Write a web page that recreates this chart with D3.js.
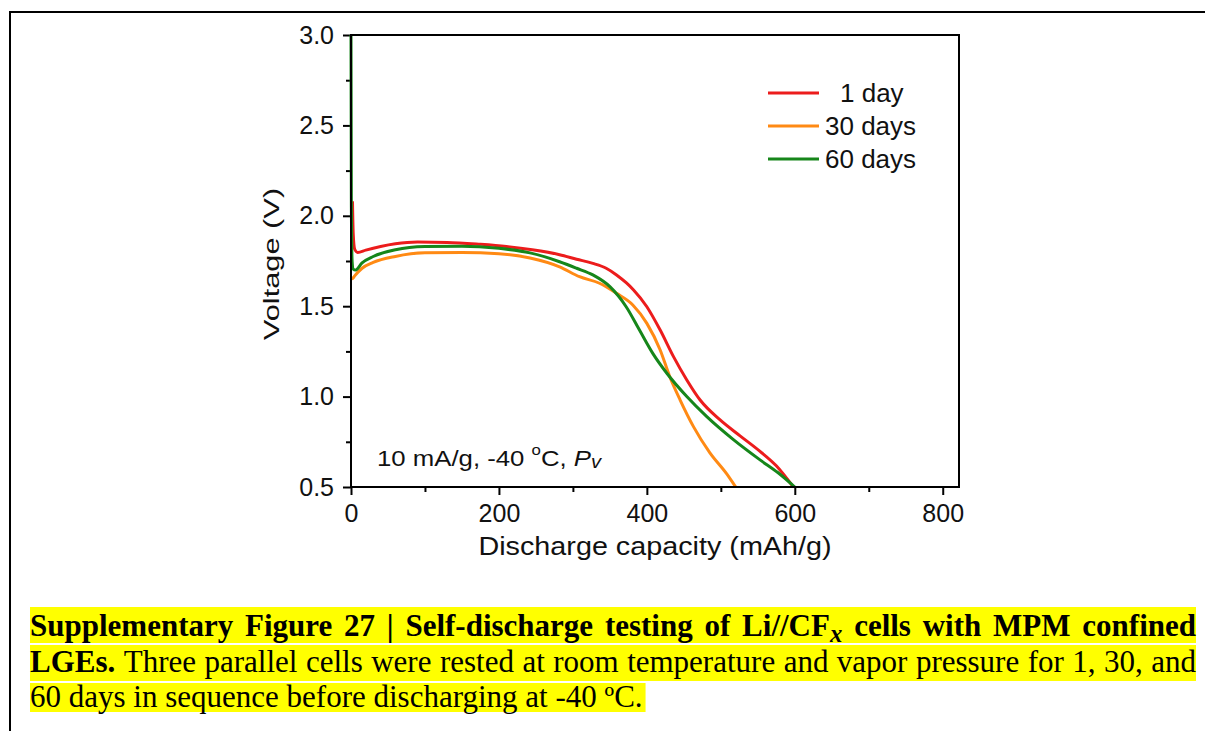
<!DOCTYPE html>
<html>
<head>
<meta charset="utf-8">
<script src="https://cdn.jsdelivr.net/npm/d3@7"></script>
<style>
  html, body { margin: 0; padding: 0; background: #fff; }
  svg { display: block; }
</style>
</head>
<body>
<svg id="fig" width="1205" height="731"></svg>
<script>
// Discharge curves: [capacity (mAh/g), voltage (V)]
const day1 = [
  [2, 2.08], [3, 1.90], [5, 1.815], [9, 1.797], [20, 1.81], [40, 1.83], [60, 1.845],
  [90, 1.855], [130, 1.853], [175, 1.842], [210, 1.83], [245, 1.812], [282, 1.785],
  [305, 1.76], [327, 1.737], [345, 1.71], [359, 1.673], [372, 1.63], [382, 1.59],
  [400, 1.497], [418, 1.368], [436, 1.221], [454, 1.092], [472, 0.981], [499, 0.871],
  [526, 0.783], [553, 0.697], [575, 0.617], [598, 0.50]
];
const day30 = [
  [0, 1.66], [2, 1.652], [5, 1.668], [15, 1.71], [30, 1.742], [60, 1.775], [100, 1.795],
  [150, 1.797], [200, 1.79], [242, 1.767], [282, 1.718], [309, 1.663], [336, 1.627],
  [359, 1.571], [381, 1.507], [400, 1.405], [418, 1.258], [431, 1.11], [445, 0.981],
  [463, 0.834], [485, 0.69], [508, 0.572], [520, 0.50]
];
const day60 = [
  [0, 3.0], [0.5, 2.05], [1.5, 1.75], [3, 1.705], [6, 1.70], [15, 1.74], [30, 1.775],
  [60, 1.812], [100, 1.83], [150, 1.832], [200, 1.82], [242, 1.795], [282, 1.746],
  [305, 1.71], [327, 1.673], [350, 1.608], [372, 1.497], [390, 1.368], [408, 1.239],
  [427, 1.129], [454, 1.0], [481, 0.889], [517, 0.762], [553, 0.65], [577, 0.58],
  [600, 0.50]
];

const seriesNames = ["1 day", "30 days", "60 days"];
const seriesColors = ["#ec1c1c", "#ff8a14", "#16861a"];

const xMajorTicks = [0, 200, 400, 600, 800];
const xMinorTicks = [100, 300, 500, 700];
const yMajorTicks = [0.5, 1.0, 1.5, 2.0, 2.5, 3.0];
const yMinorTicks = [0.75, 1.25, 1.75, 2.25, 2.75];

const xTitle = "Discharge capacity (mAh/g)";
const yTitle = "Voltage (V)";

// Caption lines as styled segments
const captionLines = [
  [
    { t: "Supplementary Figure 27 | Self-discharge testing of Li//CF", b: true },
    { t: "x", b: true, i: true, sub: true },
    { t: " cells with MPM confined", b: true }
  ],
  [
    { t: "LGEs.", b: true },
    { t: " Three parallel cells were rested at room temperature and vapor pressure for 1, 30, and" }
  ],
  [
    { t: "60 days in sequence before discharging at -40 ºC." }
  ]
];

const svg = d3.select("#fig");
const sans = "'Liberation Sans', Arial, Helvetica, sans-serif";
const serif = "'Liberation Serif', 'Times New Roman', serif";

// page frame
svg.append("path")
  .attr("d", "M10,760 L10,12 L1220,12")
  .attr("fill", "none").attr("stroke", "#000").attr("stroke-width", 2);

const plot = { left: 351, right: 959, top: 35, bottom: 487 };
const x = d3.scaleLinear().domain([0, 822]).range([plot.left, plot.right]);
const y = d3.scaleLinear().domain([0.5, 3.0]).range([plot.bottom, plot.top]);

// axes
const gx = svg.append("g").attr("transform", `translate(0,${plot.bottom})`);
gx.call(d3.axisBottom(x).tickValues(xMajorTicks).tickSize(8).tickPadding(9).tickFormat(d3.format("d")));
gx.append("g").call(d3.axisBottom(x).tickValues(xMinorTicks).tickSize(5).tickFormat(""));
const gy = svg.append("g").attr("transform", `translate(${plot.left},0)`);
gy.call(d3.axisLeft(y).tickValues(yMajorTicks).tickSize(8).tickPadding(9).tickFormat(d3.format(".1f")));
gy.append("g").call(d3.axisLeft(y).tickValues(yMinorTicks).tickSize(5).tickFormat(""));

svg.selectAll(".domain").remove();
svg.selectAll(".tick line").attr("stroke", "#000").attr("stroke-width", 2);
svg.selectAll(".tick text").attr("fill", "#111").style("font-family", sans).style("font-size", "25px");

// curves
const line = d3.line().x(d => x(d[0])).y(d => y(d[1])).curve(d3.curveMonotoneX);
const series = [day1, day30, day60];
[0, 1, 2].forEach(i => {
  svg.append("path")
    .datum(series[i])
    .attr("d", line)
    .attr("fill", "none")
    .attr("stroke", seriesColors[i])
    .attr("stroke-width", 3)
    .attr("stroke-linejoin", "round");
});

// plot frame
svg.append("rect")
  .attr("x", plot.left).attr("y", plot.top)
  .attr("width", plot.right - plot.left).attr("height", plot.bottom - plot.top)
  .attr("fill", "none").attr("stroke", "#000").attr("stroke-width", 2);

// axis titles (glyphs drawn slightly wide, as in the source figure)
svg.append("text")
  .attr("transform", `translate(${(plot.left + plot.right) / 2},555) scale(1.15,1)`)
  .attr("text-anchor", "middle")
  .style("font-family", sans).style("font-size", "25px").attr("fill", "#111")
  .text(xTitle);
svg.append("text")
  .attr("transform", `translate(279,264) rotate(-90) scale(1.4,1)`)
  .attr("text-anchor", "middle")
  .style("font-family", sans).style("font-size", "22px").attr("fill", "#111")
  .text(yTitle);

// legend
const legendY = [93, 126, 159];
const legendTextX = [840, 825, 825];
seriesNames.forEach((name, i) => {
  svg.append("line")
    .attr("x1", 768).attr("x2", 819)
    .attr("y1", legendY[i]).attr("y2", legendY[i])
    .attr("stroke", seriesColors[i]).attr("stroke-width", 3);
  svg.append("text")
    .attr("x", legendTextX[i]).attr("y", legendY[i] + 9)
    .style("font-family", sans).style("font-size", "26px").attr("fill", "#111")
    .text(name);
});

// condition note
const note = svg.append("text")
  .attr("transform", "translate(377,466) scale(1.12,1)")
  .style("font-family", sans).style("font-size", "23px").attr("fill", "#111");
note.append("tspan").text("10 mA/g, -40 ");
note.append("tspan").text("o").style("font-size", "15px").attr("dy", -11);
note.append("tspan").text("C, ").attr("dy", 11);
note.append("tspan").text("P").style("font-style", "italic");
note.append("tspan").text("v").style("font-style", "italic").style("font-size", "18px").attr("dy", 2);

// caption
const capLeft = 30, capRight = 1196, capFont = 31;
const baselines = [636, 672, 707];
const hlTop = [607, 645, 683], hlBottom = [643, 681, 712];
const capG = svg.append("g");

captionLines.forEach((segs, li) => {
  // split segments into words
  const words = [[]];
  segs.forEach(s => {
    const parts = s.t.split(" ");
    parts.forEach((p, k) => {
      if (k > 0) words.push([]);
      if (p.length) words[words.length - 1].push(Object.assign({}, s, { t: p }));
    });
  });
  const ws = words.filter(w => w.length);
  const hl = capG.append("rect").attr("fill", "#ffff00");
  const tg = capG.append("g");
  const widths = ws.map(w => {
    const t = tg.append("text").attr("y", baselines[li])
      .style("font-family", serif).style("font-size", capFont + "px").attr("fill", "#000");
    w.forEach(s => {
      const ts = t.append("tspan").text(s.t)
        .style("font-weight", s.b ? "bold" : "normal")
        .style("font-style", s.i ? "italic" : "normal");
      if (s.sub) ts.style("font-size", (capFont * 0.8) + "px").attr("dy", 6);
    });
    w.node = t;
    return t.node().getComputedTextLength();
  });
  const spaceW = capFont * 0.25;
  const total = d3.sum(widths);
  const justify = li < captionLines.length - 1;
  const gap = justify ? (capRight - capLeft - total) / (ws.length - 1) : spaceW;
  let cx = capLeft;
  ws.forEach((w, k) => {
    w.node.attr("x", cx);
    cx += widths[k] + gap;
  });
  const endX = justify ? capRight : cx - gap + 3;
  hl.attr("x", capLeft).attr("y", hlTop[li])
    .attr("width", endX - capLeft).attr("height", hlBottom[li] - hlTop[li]);
});
</script>
</body>
</html>
